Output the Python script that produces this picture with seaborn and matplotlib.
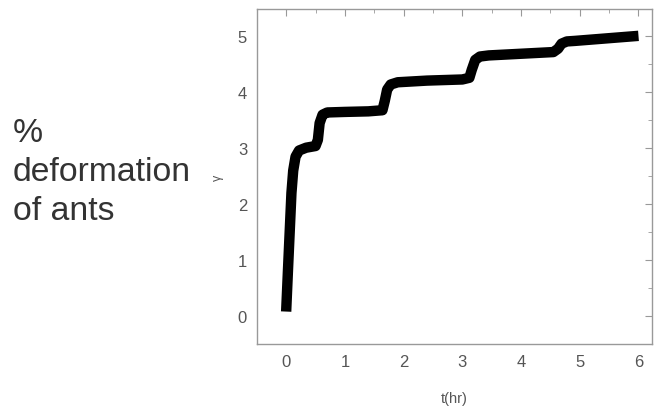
import matplotlib
matplotlib.use("Agg")
import matplotlib.pyplot as plt
import seaborn as sns
import pandas as pd
from matplotlib.ticker import MultipleLocator

# Data
t_hr = [0.0, 0.03, 0.06, 0.09, 0.12, 0.16, 0.22, 0.34, 0.50, 0.54, 0.57, 0.62, 0.70,
        1.00, 1.40, 1.64, 1.68, 1.72, 1.78, 1.90, 2.40, 3.00, 3.12, 3.16, 3.22, 3.30,
        3.45, 4.00, 4.55, 4.63, 4.69, 4.78, 4.92, 5.40, 6.00]
gamma = [0.08, 0.8, 1.5, 2.2, 2.6, 2.85, 2.96, 3.01, 3.04, 3.15, 3.45, 3.60, 3.64,
         3.65, 3.66, 3.68, 3.85, 4.05, 4.14, 4.18, 4.21, 4.23, 4.26, 4.40, 4.58, 4.64,
         4.66, 4.69, 4.72, 4.78, 4.87, 4.91, 4.92, 4.96, 5.01]
x_ticks = [0, 1, 2, 3, 4, 5, 6]
y_ticks = [0, 1, 2, 3, 4, 5]
side_text = "%\ndeformation\nof ants"

df = pd.DataFrame({"t": t_hr, "g": gamma})

sns.set_style("white")
plt.rcParams['font.family'] = ['Liberation Sans', 'DejaVu Sans']

fig = plt.figure(figsize=(6.67, 4.10), dpi=100)
ax = fig.add_axes([0.385, 0.1585, 0.5925, 0.8171])

sns.lineplot(data=df, x="t", y="g", ax=ax, color="black", linewidth=7.5,
             solid_capstyle="butt", solid_joinstyle="round")

ax.set_xlim(-0.5, 6.23)
ax.set_ylim(-0.5, 5.49)
ax.set_xticks(x_ticks)
ax.set_yticks(y_ticks)
ax.xaxis.set_minor_locator(MultipleLocator(0.5))
ax.yaxis.set_minor_locator(MultipleLocator(0.5))

for s in ax.spines.values():
    s.set_color("#999999")
    s.set_linewidth(1.0)
ax.tick_params(which="both", direction="in", top=True, right=True,
               colors="#999999", labelcolor="#555555")
ax.tick_params(which="major", length=5, width=0.8, labelsize=12, pad=7)
ax.tick_params(which="minor", length=3, width=0.6)

ax.set_xlabel("t(hr)", fontsize=10.5, color="#555555", labelpad=16)
ax.set_ylabel("γ", fontsize=9, color="#555555", labelpad=10)

fig.text(0.019, 0.712, side_text, fontsize=24.3, color="#333333",
         ha="left", va="top", linespacing=1.33)

fig.savefig("out.png", dpi=100, facecolor="white")
